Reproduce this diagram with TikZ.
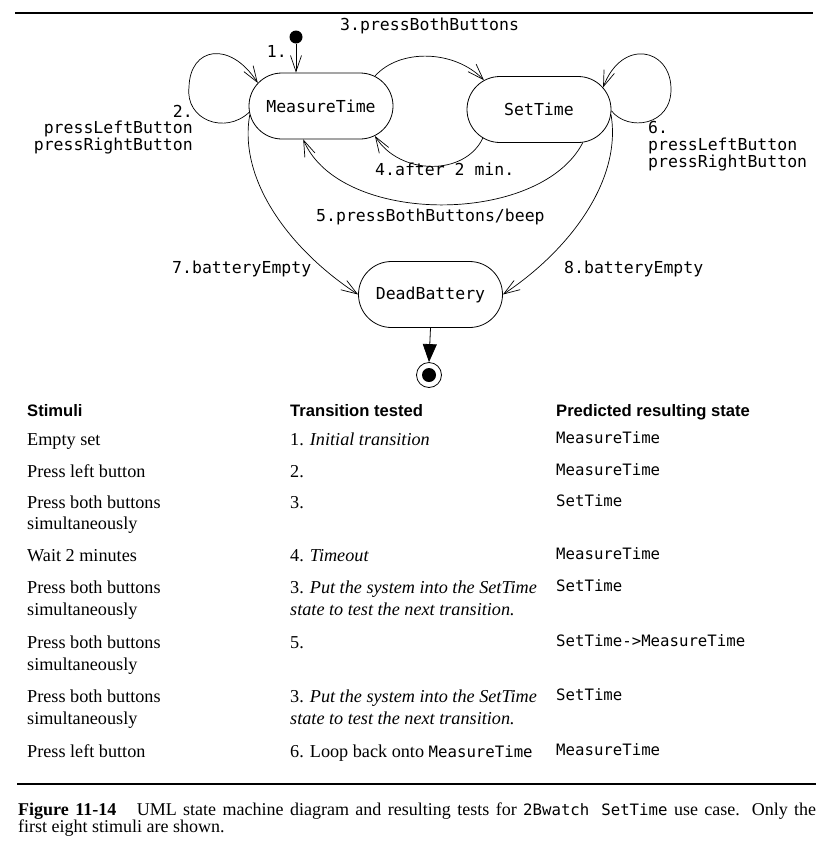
\documentclass[tikz,border=0pt]{standalone}
\usepackage{fontspec}
\setmainfont{Liberation Serif}
\setsansfont{Liberation Sans}
\setmonofont{DejaVu Sans Mono}
\usetikzlibrary{shapes.misc,arrows.meta}
\newcommand\diagmono{\fontsize{16.5pt}{20pt}\selectfont\ttfamily}
\newcommand\tabmono{\fontsize{15.7pt}{19pt}\selectfont\ttfamily}
\newcommand\tabserif{\fontsize{18.2pt}{21pt}\selectfont\rmfamily}
\newcommand\tabhead{\fontsize{16.6pt}{20pt}\selectfont\sffamily\bfseries}
\tikzset{
  statebox/.style={rounded rectangle, draw, line width=0.8pt, minimum width=144pt, minimum height=66pt, inner sep=0pt, font=\diagmono},
  trans/.style={-{Straight Barb[length=16pt,width=11pt]}, line width=0.7pt},
  lbl/.style={inner sep=0pt, font=\diagmono},
  cell/.style={inner sep=0pt, anchor=base west, font=\tabserif},
  mcell/.style={inner sep=0pt, anchor=base west, font=\tabmono},
  hcell/.style={inner sep=0pt, anchor=base west, font=\tabhead},
  rulebar/.style={line width=2.6pt},
}
\begin{document}
\begin{tikzpicture}[x=1pt,y=-1pt]
\useasboundingbox (0,0) rectangle (836,860);
\fill[white] (0,0) rectangle (836,860);
% rules
\draw[rulebar] (15,13) -- (813,13);
\draw[rulebar] (17,784) -- (816,784);
% states
\node[statebox] (mt) at (321,106) {MeasureTime};
\node[statebox] (st) at (539,109.5) {SetTime};
\node[statebox] (db) at (430.5,294.5) {DeadBattery};
\node[circle, fill=black, minimum size=13pt, inner sep=0pt] (init) at (296,37) {};
\node[circle, draw, line width=0.8pt, minimum size=25pt, inner sep=0pt] (fin) at (429,375) {};
\node[circle, fill=black, minimum size=14pt, inner sep=0pt] (fininner) at (fin.center) {};
% transitions
\draw[trans] (init) -- (init |- mt.north);
\draw[trans] (mt.185) .. controls (225,135) and (185,120) .. (189,87) .. controls (190,47) and (230,40) .. (mt.160);
\draw[trans] (mt.29) .. controls (400,48) and (455,50) .. (st.152.6);
\draw[trans] (st.207) .. controls (465,176) and (400,176) .. (mt.331.5);
\draw[trans] (st.323) .. controls (540,226) and (340,226) .. (mt.242);
\draw[trans] (st.359) .. controls (628,132) and (672,126) .. (671,88) .. controls (670,48) and (622,38) .. (st.19);
\draw[trans] (mt.187) .. controls (238,180) and (290,250) .. (db.west);
\draw[trans] (st.356) .. controls (622,180) and (570,250) .. (db.east);
\draw[line width=0.8pt, -{Triangle[length=18pt,width=14pt]}] (db.south) -- (fin.north);
% labels
\node[lbl, anchor=mid west] (l3) at (340,28) {3.pressBothButtons};
\node[lbl, anchor=mid east] (l1) at (287,55) {1.};
\node[lbl, anchor=mid east] (l2a) at (193,115) {2.};
\node[lbl, anchor=mid east] (l2b) at (193,131) {pressLeftButton};
\node[lbl, anchor=mid east] (l2c) at (193,148) {pressRightButton};
\node[lbl, anchor=mid west] (l6a) at (648,131) {6.};
\node[lbl, anchor=mid west] (l6b) at (648,148) {pressLeftButton};
\node[lbl, anchor=mid west] (l6c) at (648,165) {pressRightButton};
\node[lbl, anchor=mid west] (l4) at (375,173) {4.after 2 min.};
\node[lbl, anchor=mid west] (l5) at (316,219) {5.pressBothButtons/beep};
\node[lbl, anchor=mid west] (l7) at (172,271) {7.batteryEmpty};
\node[lbl, anchor=mid west] (l8) at (564,271) {8.batteryEmpty};
% table header
\node[hcell] (h1) at (27,416) {Stimuli};
\node[hcell] (h2) at (290,416) {Transition tested};
\node[hcell] (h3) at (556,416) {Predicted resulting state};
% rows
\node[cell] (s1) at (27,445) {Empty set};
\node[cell] (t1) at (290,445) {1. \textit{Initial transition}};
\node[mcell] (r1) at (556,443) {MeasureTime};
\node[cell] (s2) at (27,477) {Press left button};
\node[cell] (t2) at (290,477) {2.};
\node[mcell] (r2) at (556,475) {MeasureTime};
\node[cell] (s3a) at (27,508) {Press both buttons};
\node[cell] (s3b) at (27,529) {simultaneously};
\node[cell] (t3) at (290,508) {3.};
\node[mcell] (r3) at (556,506) {SetTime};
\node[cell] (s4) at (27,561) {Wait 2 minutes};
\node[cell] (t4) at (290,561) {4. \textit{Timeout}};
\node[mcell] (r4) at (556,559) {MeasureTime};
\node[cell] (s5a) at (27,593) {Press both buttons};
\node[cell] (s5b) at (27,615) {simultaneously};
\node[cell] (t5a) at (290,593) {3. \textit{Put the system into the SetTime}};
\node[cell] (t5b) at (290,615) {\textit{state to test the next transition.}};
\node[mcell] (r5) at (556,591) {SetTime};
\node[cell] (s6a) at (27,648) {Press both buttons};
\node[cell] (s6b) at (27,670) {simultaneously};
\node[cell] (t6) at (290,648) {5.};
\node[mcell] (r6) at (556,646) {SetTime->MeasureTime};
\node[cell] (s7a) at (27,702) {Press both buttons};
\node[cell] (s7b) at (27,724) {simultaneously};
\node[cell] (t7a) at (290,702) {3. \textit{Put the system into the SetTime}};
\node[cell] (t7b) at (290,724) {\textit{state to test the next transition.}};
\node[mcell] (r7) at (556,700) {SetTime};
\node[cell] (s8) at (27,757) {Press left button};
\node[cell] (t8) at (290,757) {6. Loop back onto {\tabmono MeasureTime}};
\node[mcell] (r8) at (556,755) {MeasureTime};
% caption
\node[cell, font=\fontsize{18pt}{20pt}\selectfont\rmfamily] (cap1) at (18,815) {\makebox[798pt][s]{\textbf{Figure 11-14}\hspace{14pt} UML state machine diagram and resulting tests for {\tabmono 2Bwatch}\hspace{12pt}{\tabmono SetTime} use case. Only the}};
\node[cell, font=\fontsize{18pt}{20pt}\selectfont\rmfamily] (cap2) at (18,832) {first eight stimuli are shown.};
\end{tikzpicture}
\end{document}
